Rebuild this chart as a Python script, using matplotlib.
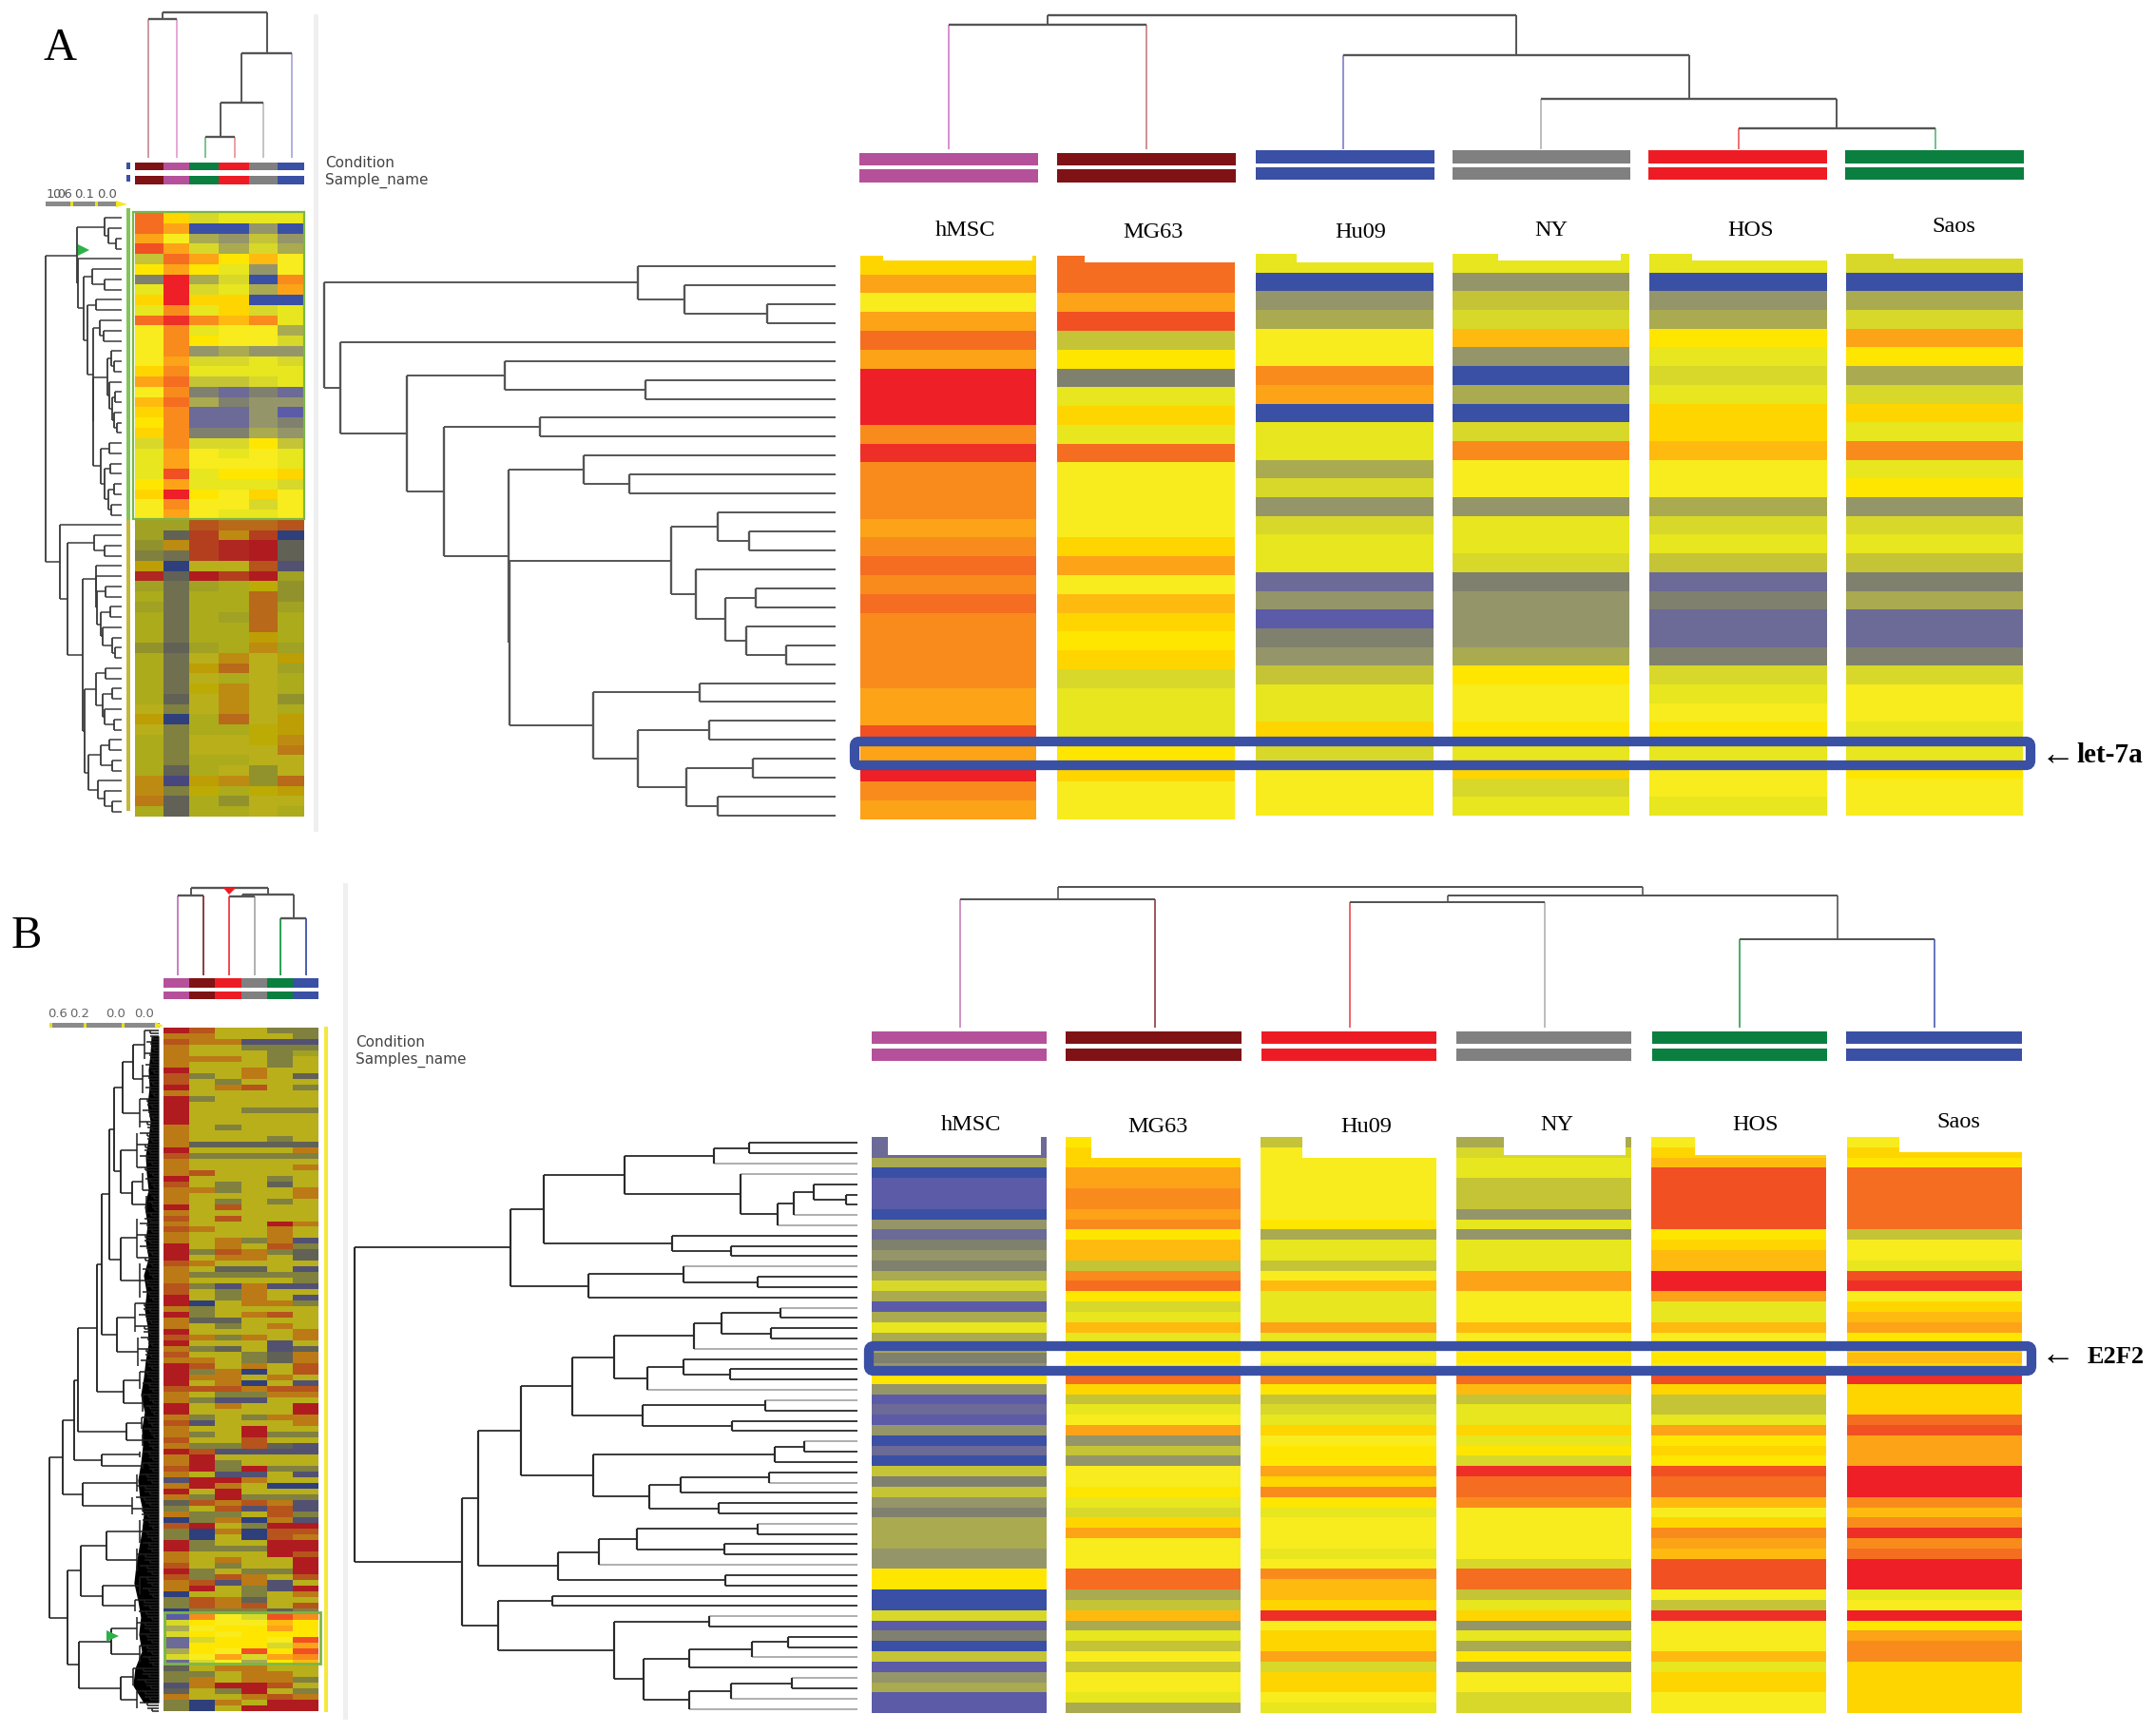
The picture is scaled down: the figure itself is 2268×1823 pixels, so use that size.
import numpy as np
import matplotlib
matplotlib.use('Agg')
from matplotlib import pyplot as plt
from matplotlib.colors import ListedColormap, to_rgb
from matplotlib.patches import Rectangle, FancyBboxPatch, Polygon

W, H = 2268, 1824
plt.rcParams['font.family'] = ['Liberation Serif', 'DejaVu Sans']

palette = ['#3a50a4', '#5b5ba8', '#6c6a96', '#80806f', '#95956a', '#aaaa50', '#c4c436',
           '#d8d82a', '#e8e61e', '#f8ec1e', '#ffe600', '#ffd500', '#ffba10', '#fca318',
           '#f98b1c', '#f56d20', '#f15023', '#ee2f27', '#ee1f26']
cmap = ListedColormap(palette)
cmap_dim = ListedColormap([tuple(c * 0.72 + 0.02 for c in to_rgb(p)) for p in palette])
codes = {'B': 0, 'P': 1, 'S': 2, 'D': 3, 'K': 5, 'G': 7, 'Y': 9, 'I': 10, 'F': 12,
         'O': 13, 'L': 14, 'T': 15, 'V': 16, 'R': 18}

samples_a = ['hMSC', 'MG63', 'Hu09', 'NY', 'HOS', 'Saos']
samples_b = ['hMSC', 'MG63', 'Hu09', 'NY', 'HOS', 'Saos']

# panel A, main heat map
a_hmsc = [11, 13, 9, 13, 15, 13, 18, 18, 18, 14, 17, 14, 14, 14, 13, 14, 15, 14, 15, 14, 14, 14, 14, 13, 13, 16, 13, 18, 14, 13]
a_mg63 = [15, 15, 13, 16, 6, 10, 3, 8, 11, 8, 15, 9, 9, 9, 9, 11, 13, 9, 12, 11, 10, 11, 7, 8, 8, 8, 10, 11, 9, 9]
a_hu09 = [8, 0, 4, 5, 9, 9, 14, 13, 0, 8, 8, 5, 7, 4, 7, 8, 8, 2, 4, 1, 3, 4, 6, 8, 8, 11, 7, 9, 9, 9]
a_ny = [8, 4, 6, 7, 12, 4, 0, 5, 0, 7, 14, 9, 9, 4, 8, 8, 7, 3, 4, 4, 4, 5, 10, 9, 9, 10, 8, 11, 7, 8]
a_hos = [8, 0, 4, 5, 10, 8, 7, 8, 11, 11, 12, 9, 9, 5, 7, 8, 6, 2, 3, 2, 2, 3, 7, 8, 9, 10, 8, 9, 9, 8]
a_saos = [7, 0, 5, 7, 13, 10, 5, 7, 11, 8, 14, 8, 10, 4, 7, 8, 6, 3, 5, 2, 2, 3, 7, 9, 9, 8, 8, 10, 9, 9]

# panel B, main heat map
b_hmsc = [2, 2, 5, 0, 1, 1, 1, 0, 4, 2, 3, 4, 3, 5, 7, 5, 1, 5, 8, 5, 5, 3, 4, 10, 4, 1, 2, 1, 4, 0, 2, 0, 6, 3, 6, 4, 3, 5, 5, 5, 4, 4, 10, 10, 0, 0, 7, 1, 3, 0, 6, 1, 4, 5, 1, 1]
b_mg63 = [10, 11, 11, 13, 13, 14, 14, 13, 14, 10, 12, 12, 6, 14, 15, 10, 7, 8, 12, 8, 9, 10, 9, 15, 11, 6, 8, 9, 13, 4, 6, 4, 9, 9, 10, 8, 7, 11, 13, 9, 9, 9, 15, 15, 5, 6, 12, 5, 8, 6, 9, 6, 9, 9, 8, 5]
b_hu09 = [6, 9, 9, 9, 9, 9, 9, 9, 10, 5, 8, 8, 6, 9, 12, 8, 8, 8, 13, 8, 9, 9, 8, 14, 10, 6, 7, 8, 11, 9, 10, 10, 13, 11, 14, 10, 8, 9, 9, 9, 8, 9, 14, 12, 12, 11, 17, 9, 11, 11, 13, 7, 11, 11, 9, 8]
b_ny = [5, 7, 8, 8, 6, 6, 6, 4, 8, 4, 8, 8, 8, 13, 13, 9, 9, 9, 12, 9, 9, 10, 9, 15, 12, 6, 8, 8, 11, 8, 10, 7, 17, 15, 15, 14, 9, 9, 9, 9, 9, 7, 15, 15, 6, 8, 11, 4, 8, 5, 10, 4, 9, 9, 7, 7]
b_hos = [9, 11, 12, 16, 16, 16, 16, 16, 16, 10, 11, 12, 12, 18, 18, 13, 8, 8, 12, 9, 9, 10, 9, 16, 11, 6, 6, 8, 13, 10, 11, 10, 16, 15, 15, 12, 9, 11, 14, 13, 12, 16, 16, 16, 9, 6, 17, 9, 9, 9, 12, 8, 11, 11, 9, 9]
b_saos = [9, 11, 10, 15, 15, 15, 15, 15, 15, 6, 9, 9, 8, 16, 17, 9, 11, 12, 13, 10, 11, 12, 11, 17, 11, 11, 11, 15, 16, 13, 13, 13, 18, 18, 18, 14, 12, 14, 17, 14, 15, 18, 18, 18, 8, 9, 18, 10, 13, 14, 14, 11, 11, 11, 11, 11]

# panel A thumbnail, lower block (MG63, hMSC, Saos, HOS, NY, Hu09)
thumb_a_low = [
    [7, 7, 15, 14, 14, 15], [7, 3, 16, 12, 16, 0], [6, 12, 16, 17, 18, 3], [5, 4, 16, 17, 18, 3],
    [11, 0, 9, 9, 15, 2], [17, 3, 18, 16, 18, 7], [7, 4, 7, 8, 10, 6], [8, 4, 8, 8, 14, 6],
    [7, 4, 8, 8, 14, 7], [8, 4, 8, 7, 14, 8], [8, 4, 8, 8, 14, 8], [8, 4, 8, 8, 11, 8],
    [6, 3, 7, 8, 12, 7], [8, 4, 9, 12, 9, 11], [8, 4, 11, 14, 9, 7], [8, 4, 9, 8, 9, 8],
    [8, 4, 10, 12, 9, 8], [8, 3, 9, 12, 9, 6], [9, 5, 9, 12, 9, 8], [11, 0, 8, 14, 9, 11],
    [9, 5, 8, 8, 10, 11], [8, 5, 9, 9, 10, 12], [8, 5, 9, 9, 9, 13], [8, 5, 8, 8, 9, 9],
    [8, 3, 8, 9, 6, 9], [12, 1, 11, 12, 6, 14], [12, 5, 10, 8, 10, 11], [13, 3, 8, 6, 9, 9],
    [8, 3, 8, 8, 9, 8]]
thumb_a_order = [1, 0, 5, 4, 3, 2]

# panel B thumbnail, one string per band, one letter per sample
thumb_b = [
    'RTYYKK', 'OOYYYK', 'TOOSSS', 'OYYKKK', 'OYYYKG', 'OOOYKY', 'OYYYKY', 'RYYOYY', 'TKYOYD', 'TYKYYY',
    'RYOTYK', 'OYYYYY', 'RKYYYY', 'RYYYYY', 'RYYKKK', 'RYYYYY', 'RYYYYY', 'OYKYYY', 'OYYYYY', 'OYYYKY',
    'ODDDDD', 'RYYYYO', 'TKKKKK', 'OYYYYY', 'OYYYYO', 'OTYYYY', 'RYYYKY', 'TYKYDY', 'OOKYYO', 'OYYYYO',
    'OYKYKY', 'RYTYYY', 'OYYYYY', 'TYTYYY', 'OYYYRO', 'TOYYOY', 'OYYYOY', 'OYOKOS', 'RYOYTK', 'RKTOKD',
    'RYOOYD', 'TOYYYY', 'OYDDYS', 'OKKKKK', 'OYYYYK', 'TKSOSS', 'TYKOYY', 'RYKOYS', 'RBYOOK', 'OKYYYY',
    'RKYOTY', 'ODDYYY', 'OYKYOY', 'RYYYYO', 'TOKOYO', 'RYYYSY', 'OKDYSD', 'TYYKDO', 'OOYKDO', 'RTYOYT',
    'RKOBYT', 'ROOYOY', 'RYOBYS', 'TTTOTT', 'OYKKOO', 'OKSSYY', 'RYOYYR', 'RYYYYR', 'OKYKOO', 'TSYYYO',
    'OYYRYY', 'OKYRKK', 'TYYTYY', 'OKKTDS', 'RTSSSS', 'ORYYYY', 'ORKYYY', 'TRKRKK', 'OYSSYS', 'SRROYY',
    'OROYBB', 'RYRYYY', 'OKRKKK', 'DTOTOS', 'KYTSTS', 'OKKYTK', 'BKOBOS', 'TRYKRR', 'KBOBTT', 'KBYBTO',
    'RKYYRR', 'RKKKRR', 'OYYYRT', 'OYOYYR', 'TYKYYR', 'RKYKKR', 'TKTOYT', 'OTSOSY', 'ORYKSR', 'BYYKYO',
    'KTODYY', 'KTOTYT', 'BKKKDK', 'PLYGVL', 'GIYYFI', 'KYIIOI', 'GIYIII', 'SGIIYV', 'SIIIGO', 'KIYVIV',
    'GYOGOL', 'SGYKIF', 'DYOOYY', 'KKYOOY', 'KOYOOK', 'SORRTY', 'DYKRYK', 'OYYOTO', 'KBOYRR', 'KBYRRR']
bright_rows = [103, 111]

# dendrograms: [merge distance, child, child]; an int is a leaf, a tuple is (distance, rows in a comb)
tree_a = [1405,
          [542, 0, [415, 1, [188, 2, 3]]],
          [1360, 4,
           [1178, [908, 5, [522, 6, 7]],
            [1077, [812, 8, 9],
             [898, [692, 10, [567, 11, 12]],
              [895,
               [452, [325, 13, [238, 14, 15]],
                [385, 16, [302, [220, 17, 18], [245, 19, [135, 20, 21]]]]],
               [667, [373, 22, 23],
                [542, [348, 24, 25], [410, [228, 26, 27], [325, 28, 29]]]]]]]]]]

tree_b = [1427,
          [985,
           [890, [660, [408, [308, 0, 1], 2], [332, 3, [227, [182, [125, 4, [32, 5, 6]], 7], 8]]],
            [527, 9, [360, 10, 11]]],
           [763, [494, 12, [284, 13, 14]], 15]],
          [1123,
           [1075,
            [955,
             [808,
              [690, [463, [386, [218, 16, 17], [245, 18, 19]], 20],
               [597, [494, 21, [362, 22, 23]], 24]],
              [610, [263, 25, 26], [357, 27, 28]]],
             [750, [236, [150, 29, 30], 31], [592, [502, [250, 32, 33], 34], [395, 35, 36]]]],
            [850, [733, [625, [283, 37, 38], [378, 39, 40]], 41], [374, 42, 43]]],
           [1020, [865, 44, 45],
            [690, [422, 46, 47],
             [608, [477, [300, [198, 48, 49], 50], 51],
              [477, [360, [185, 52, 53], 54], 55]]]]]]
tree_b_light = [2, 3, 7, 8, 12, 16, 20, 24, 25, 29, 33, 37, 41, 46, 50, 52, 54, 55]

thumb_a_lower = [195, 30,
                 [170, [87, 31, [55, 32, 33]],
                  [123,
                   [82, 34, [80, 35, [78, [50, 36, 37], [65, [35, 38, 39], [60, 40, [30, 41, [20, 42, 43]]]]]]],
                   [117,
                    [82, [50, 44, 45], [60, [30, 46, 47], [55, 48, [25, 49, 50]]]],
                    [105, [65, [40, 51, 52], [30, 53, 54]], [75, 55, [55, 56, [30, 57, 58]]]]]]]]

thumb_b_tree = [343,
                [300,
                 [265,
                  [255,
                   [195,
                    [180,
                     [155,
                      [140,
                       [112, [80, (45, 6), (50, 6)], (60, 6)],
                       [118, (70, 7), [85, (50, 4), (40, 4)]]],
                      [120, (70, 8), (60, 7)]],
                     [130, (75, 6), (65, 6)]],
                    [110, (60, 4), (50, 4)]],
                   [100, (55, 3), (50, 3)]],
                  [180, (60, 2), (50, 2)]],
                 [240, (70, 4), (85, 4)]],
                [285,
                 [245, [165, (60, 5), (70, 5)], [175, (60, 4), (75, 3)]],
                 [250, [150, (70, 5), (60, 4)], [120, (80, 4), (70, 4)]]]]
# depth of the solid black edge of the comb, every third row
comb_depth = [8, 9, 11, 10, 12, 9, 11, 14, 13, 11, 15, 12, 14, 11, 16, 13, 15, 12, 11, 14,
              16, 19, 15, 18, 17, 19, 22, 20, 16, 18, 21, 24, 26, 22, 19, 21, 18, 25, 27, 16]
comb_reach = [1.0, 0.62, 0.85, 0.5]

# sample dendrograms along the top
top_a = [141, [131, 0, 1], [99, 2, [53, 3, [22, 4, 5]]]]
top_b = [148, [135, 0, 1], [139, [132, 2, 3], [93, 4, 5]]]
top_thumb_a = [153, [146, 0, 1], [110, [58, [22, 2, 3], 4], 5]]
top_thumb_b = [92, [84, 0, 1], [85, [83, 2, 3], [60, 4, 5]]]

PINK, MAROON, BLUE, GRAY, RED, GREEN = '#b5519b', '#7f1215', '#3a50a4', '#808080', '#ed1c24', '#0a7f3f'
order_a = [PINK, MAROON, BLUE, GRAY, RED, GREEN]
order_b = [PINK, MAROON, RED, GRAY, GREEN, BLUE]
order_thumb_a = [MAROON, PINK, GREEN, RED, GRAY, BLUE]
stub_a = ['#d98fd0', '#cc8f94', '#8f8fd6', '#bdbdbd', '#ee6f72', '#70c28a']
stub_b = ['#c87fc0', '#8f3a40', '#ee4a50', '#b0b0b0', '#2aa050', '#4a5fb0']
stub_thumb_a = ['#cc9aa2', '#e6a8d8', '#7cc48a', '#eda0a0', '#c4c4c4', '#b0b0e0']

# column edges in pixels
a_left = [905, 1112, 1321, 1528, 1735, 1942]
a_right = [1090, 1299, 1508, 1714, 1922, 2128]
b_left = [917, 1121, 1326, 1532, 1737, 1943]
b_right = [1101, 1305, 1511, 1716, 1921, 2127]
strip_a_left = [904, 1112, 1321, 1528, 1734, 1941]
strip_a_right = [1092, 1300, 1509, 1715, 1922, 2129]
strip_b_left = [917, 1121, 1327, 1532, 1738, 1942]
strip_b_right = [1101, 1306, 1511, 1716, 1922, 2127]
thumb_a_edges = [142, 172, 199, 230, 262, 292, 320]
thumb_b_edges = [172, 199, 226, 254, 281, 308, 335]

fig = plt.figure(figsize=(W / 100, H / 100), dpi=100)
fig.patch.set_facecolor('white')


def box_axes(x0, y0, x1, y1, zorder=1):
    ax = fig.add_axes([x0 / W, 1 - y1 / H, (x1 - x0) / W, (y1 - y0) / H], zorder=zorder)
    ax.axis('off')
    return ax


over = box_axes(0, 0, W, H, zorder=10)
over.set_xlim(0, W)
over.set_ylim(H, 0)
over.patch.set_alpha(0)


def draw_tree(ax, tree, horizontal, colour='#555555', lw=1.4, leaf_colours=None, light=()):
    counter = [0]

    def seg(d0, d1, p0, p1, c, w):
        if horizontal:
            ax.plot([d0, d1], [p0, p1], color=c, lw=w, solid_capstyle='butt', clip_on=False)
        else:
            ax.plot([p0, p1], [d0, d1], color=c, lw=w, solid_capstyle='butt', clip_on=False)

    def walk(node):
        if isinstance(node, int):
            return node, 0
        if isinstance(node, tuple):
            d, n = node
            start = counter[0]
            counter[0] += n
            for r in range(start, start + n):
                reach = d * comb_reach[r % 4]
                seg(reach, 0, r, r, colour, lw)
                seg(reach * 0.6, 0, r + 0.5, r + 0.5, colour, lw)
                seg(reach * 0.6, reach * 0.6, r, r + 0.5, colour, lw)
            seg(d, d, start, start + n - 1, colour, lw)
            return start + (n - 1) / 2, d
        h, a, b = node
        pa, da = walk(a)
        pb, db = walk(b)
        for child, p, d in ((a, pa, da), (b, pb, db)):
            c = colour
            if isinstance(child, int) and leaf_colours:
                c = leaf_colours[child]
            if isinstance(child, int) and child in light:
                c = '#a8a8a8'
            seg(d, h, p, p, c, lw)
        seg(h, h, pa, pb, colour, lw * 1.2)
        return (pa + pb) / 2, h

    walk(tree)


def row_tree(box, tree, n, dmax, **kw):
    ax = box_axes(*box)
    ax.set_xlim(dmax, 0)
    ax.set_ylim(n - 0.5, -0.5)
    draw_tree(ax, tree, True, **kw)
    return ax


def col_tree(x0, x1, y_top, y_bottom, tree, stubs, lw=1.4):
    ax = box_axes(x0, y_top, x1, y_bottom)
    ax.set_xlim(-0.5, 5.5)
    ax.set_ylim(0, y_bottom - y_top)
    draw_tree(ax, tree, False, leaf_colours=stubs, lw=lw)


def main_column(x0, y0, x1, y1, values, notch):
    ax = box_axes(x0, y0, x1, y1)
    ax.imshow(np.array(values)[:, None], aspect='auto', cmap=cmap, vmin=-0.5, vmax=18.5, interpolation='nearest')
    xa, xb, rows = notch
    ax.add_patch(Rectangle((xa - 0.5, -0.5), xb - xa, rows, color='white', lw=0))
    ax.set_xlim(-0.5, 0.5)


def strips(lefts, rights, y_rows, colours):
    for l, r, ys, c in zip(lefts, rights, y_rows, colours):
        for y0, y1 in ys:
            over.add_patch(Rectangle((l, y0), r - l, y1 - y0, color=c, lw=0))


# ---- panel A main ----
notch_a = [(0.13, 0.98, 0.25), (0.157, 1, 0.33), (0.23, 1, 0.47), (0.26, 0.95, 0.35), (0.24, 1, 0.35), (0.27, 1, 0.25)]
tops_a = [270, 270, 268, 268, 268, 268]
bottoms_a = [863, 863, 859, 859, 859, 859]
for i, vals in enumerate([a_hmsc, a_mg63, a_hu09, a_ny, a_hos, a_saos]):
    main_column(a_left[i], tops_a[i], a_right[i], bottoms_a[i], vals, notch_a[i])
row_tree((341, 271, 879, 869), tree_a, 30, 1405)
col_tree(894, 2140, 17, 158, top_a, stub_a)
y_a = [[(162, 175), (179, 193)]] * 2 + [[(159, 173), (177, 190)]] * 4
strips(strip_a_left, strip_a_right, y_a, order_a)

# ---- panel B main ----
notch_b = [(0.09, 0.97, 1.8), (0.145, 1, 2), (0.24, 1, 2), (0.27, 0.97, 1.8), (0.25, 1, 1.8), (0.3, 1, 1.5)]
for i, vals in enumerate([b_hmsc, b_mg63, b_hu09, b_ny, b_hos, b_saos]):
    main_column(b_left[i], 1197, b_right[i], 1803, vals, notch_b[i])
row_tree((373, 1198, 902, 1804), tree_b, 56, 1427, colour='#2a2a2a', lw=1.3, light=tree_b_light)
col_tree(907.5, 2137.5, 934, 1082, top_b, stub_b, lw=1.2)
y_b = [[(1086, 1099), (1104, 1117)]] * 6
strips(strip_b_left, strip_b_right, y_b, order_b)

# ---- panel A thumbnail ----
rows_top = np.array([a_hmsc, a_mg63, a_hu09, a_ny, a_hos, a_saos]).T[:, thumb_a_order]
rows_low = np.array(thumb_a_low)
ax = box_axes(thumb_a_edges[0], 225, thumb_a_edges[-1], 860)
y_edges = np.arange(60)
ax.pcolormesh(thumb_a_edges, y_edges[:31], rows_top, cmap=cmap, vmin=-0.5, vmax=18.5)
ax.pcolormesh(thumb_a_edges, y_edges[30:], rows_low, cmap=cmap_dim, vmin=-0.5, vmax=18.5)
ax.set_xlim(thumb_a_edges[0], thumb_a_edges[-1])
ax.set_ylim(59, 0)
over.add_patch(Rectangle((140, 224), 180, 323, fill=False, ec='#7ab648', lw=1.6))


def scaled(node, k):
    if isinstance(node, list):
        return [node[0] * k, scaled(node[1], k), scaled(node[2], k)]
    return node


thumb_a_tree = [2376, tree_a, scaled(thumb_a_lower, 9.9)]
row_tree((48, 225, 128, 860), thumb_a_tree, 59, 2376, colour='#3a3a3a', lw=1.1)
col_tree(141, 322, 14, 167, top_thumb_a, stub_thumb_a, lw=1.4)
y_ta = [[(172, 180), (186, 195)]] * 6
strips(thumb_a_edges[:-1], thumb_a_edges[1:], y_ta, order_thumb_a)
over.add_patch(Rectangle((133, 172), 4, 7, color=BLUE, lw=0))
over.add_patch(Rectangle((133, 185), 4, 7, color=BLUE, lw=0))
over.add_patch(Rectangle((133, 220), 4, 328, color='#84c45a', lw=0))
over.add_patch(Rectangle((133, 548), 4, 306, color='#c4b83a', lw=0))
over.add_patch(Polygon([(82, 258), (82, 270), (94, 264)], color='#2fb14a', lw=0))

# legend bar A
over.add_patch(Rectangle((48, 213), 76, 5, color='#8a8a8a', lw=0))
for tx in (74, 100):
    over.add_patch(Rectangle((tx, 213), 3, 5, color='#e6e020', lw=0))
over.add_patch(Polygon([(122, 212), (122, 219), (134, 216)], color='#f2e820', lw=0))
for tx, s in zip((59, 66, 89, 113), ('1.0', '0.6', '0.1', '0.0')):
    over.text(tx, 205, s, fontsize=9.5, family='DejaVu Sans', color='#555555', ha='center', va='center')

# ---- panel B thumbnail ----
rows_b = np.array([[codes[c] for c in row] for row in thumb_b])
dim_mask = np.zeros(rows_b.shape, dtype=bool)
dim_mask[bright_rows[0]:bright_rows[1] + 1] = True
ax = box_axes(thumb_b_edges[0], 1081.7, thumb_b_edges[-1], 1801)
ax.pcolormesh(thumb_b_edges, np.arange(121), np.ma.masked_where(dim_mask, rows_b), cmap=cmap_dim, vmin=-0.5, vmax=18.5)
ax.pcolormesh(thumb_b_edges, np.arange(121), np.ma.masked_where(~dim_mask, rows_b), cmap=cmap, vmin=-0.5, vmax=18.5)
ax.set_xlim(thumb_b_edges[0], thumb_b_edges[-1])
ax.set_ylim(120, 0)
over.add_patch(Rectangle((173, 1697), 164, 54, fill=False, ec='#7ab648', lw=2))
ax = row_tree((52, 1081.7, 167, 1801), thumb_b_tree, 120, 343, colour='#1f1f1f', lw=1.1)
comb_y = np.arange(len(comb_depth)) * 3 + 1
ax.fill_betweenx(comb_y, np.array(comb_depth) * 3, 0, color='black', lw=0)
col_tree(173.5, 335.5, 935, 1027, top_thumb_b, stub_b, lw=1.4)
y_tb = [[(1030, 1040), (1044, 1052)]] * 6
strips(thumb_b_edges[:-1], thumb_b_edges[1:], y_tb, order_b)
over.add_patch(Polygon([(235, 935), (248, 935), (241, 942)], color=RED, lw=0))
over.add_patch(Polygon([(112, 1716), (112, 1728), (125, 1722)], color='#2fb14a', lw=0))
over.add_patch(Rectangle((341, 1081), 4, 721, color='#f5e83a', lw=0))

# legend bar B
over.add_patch(Rectangle((52, 1077), 116, 5, color='#8a8a8a', lw=0))
for tx in (52, 88, 128):
    over.add_patch(Rectangle((tx, 1077), 3, 5, color='#e6e020', lw=0))
over.add_patch(Polygon([(163, 1076), (163, 1083), (172, 1080)], color='#f2e820', lw=0))
for tx, s in zip((61, 84, 122, 152), ('0.6', '0.2', '0.0', '0.0')):
    over.text(tx, 1067, s, fontsize=9.5, family='DejaVu Sans', color='#666666', ha='center', va='center')

# separators
over.add_patch(Rectangle((330, 16), 5, 860, color='#efefef', lw=0))
over.add_patch(Rectangle((361, 930), 5, 880, color='#efefef', lw=0))

# highlight boxes
for (x0, y0, x1, y1) in [(899, 781, 2136, 806), (914, 1417, 2137, 1443)]:
    over.add_patch(FancyBboxPatch((x0, y0), x1 - x0, y1 - y0, boxstyle='round,pad=0,rounding_size=5',
                                  fill=False, ec=BLUE, lw=7.4))

# text
for s, x, y in zip(samples_a, (1015, 1213, 1431, 1632, 1842, 2055), (242, 244, 245, 242, 242, 238)):
    over.text(x, y, s, fontsize=17.5, ha='center', va='center', color='black')
for s, x, y in zip(samples_b, (1021, 1218, 1437, 1638, 1847, 2060), (1184, 1186, 1186, 1184, 1184, 1181)):
    over.text(x, y, s, fontsize=17.5, ha='center', va='center', color='black')
over.text(2165, 796, '←', fontsize=26, ha='center', va='center')
over.text(2184, 795, 'let-7a', fontsize=21, fontweight='bold', ha='left', va='center')
over.text(2165, 1427, '←', fontsize=26, ha='center', va='center')
over.text(2196, 1428, 'E2F2', fontsize=19, fontweight='bold', ha='left', va='center')
over.text(63, 51, 'A', fontsize=35, ha='center', va='center')
over.text(28, 985, 'B', fontsize=35, ha='center', va='center')
for x, y, s in [(342, 172, 'Condition'), (342, 190, 'Sample_name'), (374, 1097, 'Condition'), (374, 1115, 'Samples_name')]:
    over.text(x, y, s, fontsize=11, family='DejaVu Sans', color='#444444', ha='left', va='center')

fig.savefig('out.png', dpi=100)
